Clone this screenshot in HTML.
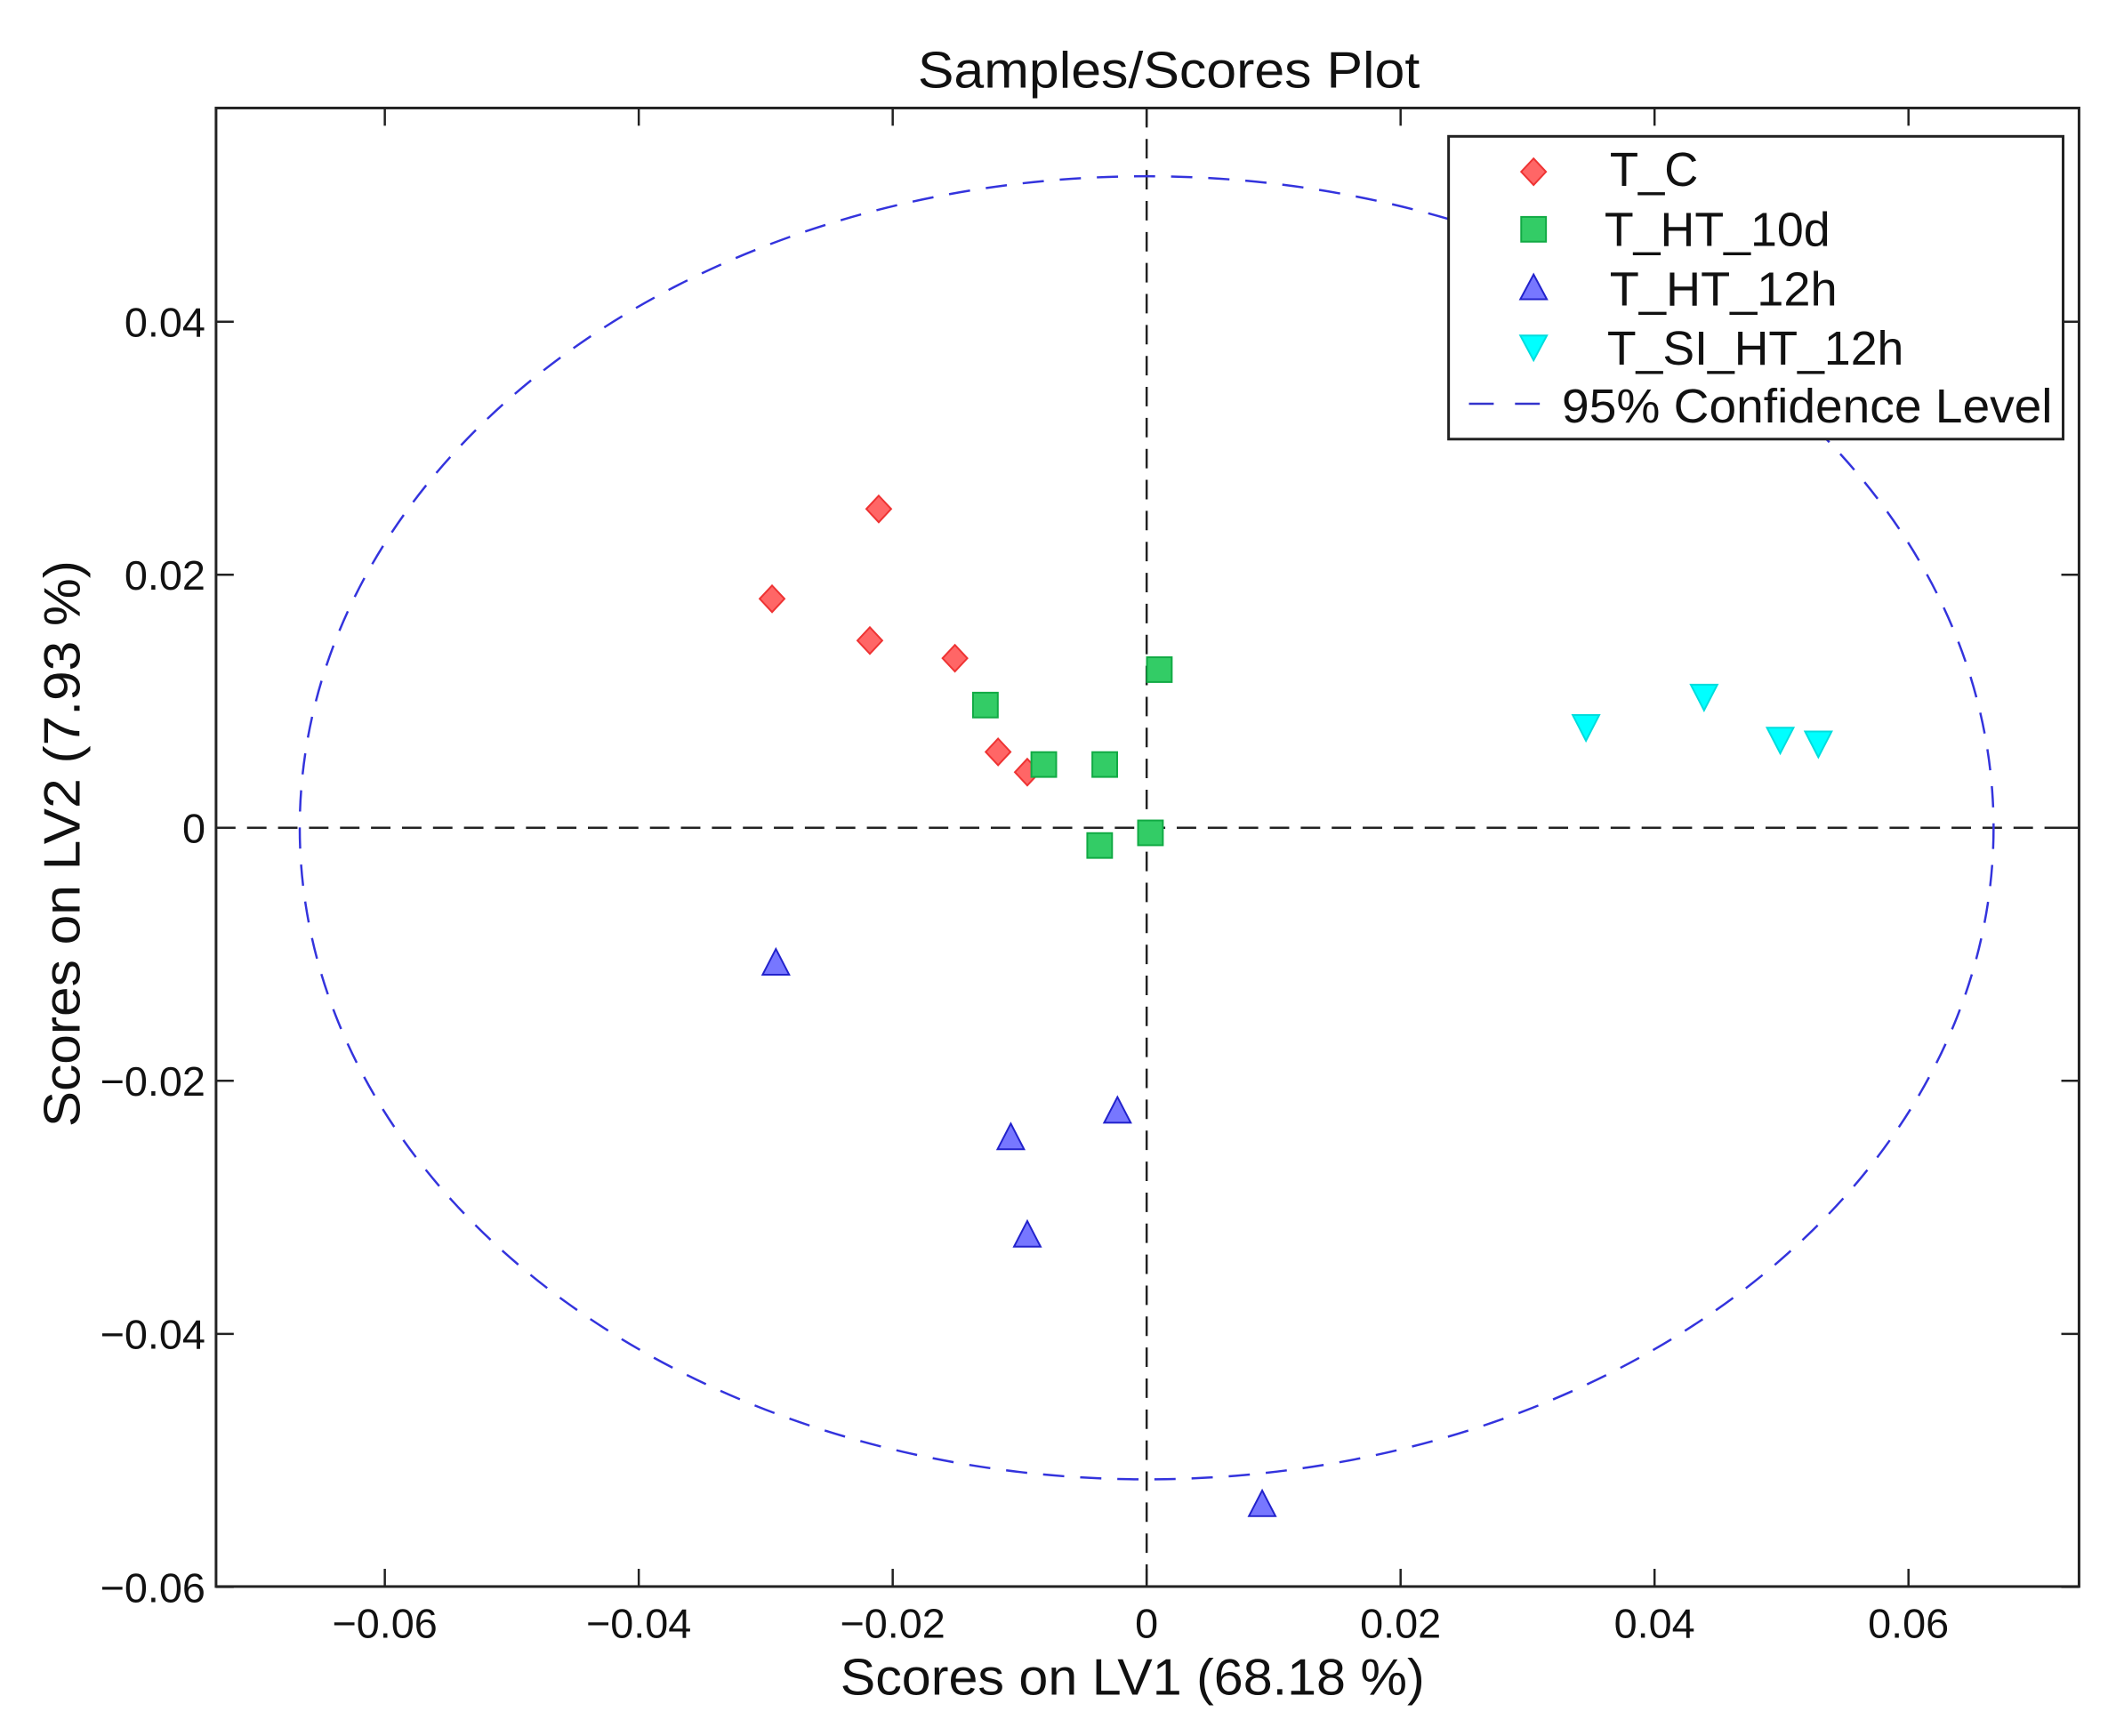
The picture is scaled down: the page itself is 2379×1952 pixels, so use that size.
<!DOCTYPE html>
<html><head><meta charset="utf-8"><style>
html,body{margin:0;padding:0;background:#fff}
svg{display:block}
text{font-family:"Liberation Sans",sans-serif;fill:#111}
</style></head><body>
<svg id="chart" width="2379" height="1952" viewBox="0 0 2379 1952" xmlns="http://www.w3.org/2000/svg">
<rect width="2379" height="1952" fill="#fff"/>
<g transform="scale(0.9955)">
<g id="grid"></g>
<g id="marks"></g>
<text x="1320" y="99" font-size="58" text-anchor="middle" textLength="567" lengthAdjust="spacingAndGlyphs">Samples/Scores Plot</text>
<text x="1279" y="1914" font-size="58" text-anchor="middle" textLength="660" lengthAdjust="spacingAndGlyphs">Scores on LV1 (68.18 %)</text>
<text x="0" y="0" font-size="58" text-anchor="middle" textLength="640" lengthAdjust="spacingAndGlyphs" transform="translate(90,953) rotate(-90)">Scores on LV2  (7.93 %)</text>
<g>
<rect x="1636" y="154" width="694" height="342" fill="#fff" stroke="#222" stroke-width="3"/>
<path d="M1732,179 L1746,194 L1732,209 L1718,194 Z" fill="#f66" stroke="#e33" stroke-width="2"/>
<text x="1818" y="210" font-size="54" textLength="100" lengthAdjust="spacingAndGlyphs">T_C</text>
<rect x="1718" y="245" width="28" height="28" fill="#3c6" stroke="#1a4" stroke-width="2"/>
<text x="1812" y="278" font-size="54" textLength="255" lengthAdjust="spacingAndGlyphs">T_HT_10d</text>
<path d="M1732,310 L1747,338 L1717,338 Z" fill="#77f" stroke="#22c" stroke-width="2"/>
<text x="1818" y="345" font-size="54" textLength="257" lengthAdjust="spacingAndGlyphs">T_HT_12h</text>
<path d="M1717,379 L1747,379 L1732,407 Z" fill="#0ff" stroke="#0dd" stroke-width="2"/>
<text x="1815" y="412" font-size="54" textLength="335" lengthAdjust="spacingAndGlyphs">T_SI_HT_12h</text>
<line x1="1659" y1="456" x2="1746" y2="456" stroke="#33c" stroke-width="2.5" stroke-dasharray="28,24"/>
<text x="1764" y="477" font-size="54" textLength="554" lengthAdjust="spacingAndGlyphs">95% Confidence Level</text>
</g>
</g>
</svg>
<script>
const xTicks = [-0.06, -0.04, -0.02, 0, 0.02, 0.04, 0.06];
const yTicks = [0.04, 0.02, 0, -0.02, -0.04, -0.06];
const tcX = [-0.0211, -0.0295, -0.0218, -0.0151, -0.0117, -0.0094];
const tcY = [0.0252, 0.0181, 0.0148, 0.0134, 0.0060, 0.0044];
const ht10dX = [0.0010, -0.0127, -0.0081, -0.0033, -0.0037, 0.0003];
const ht10dY = [0.0125, 0.0097, 0.0050, 0.0050, -0.0014, -0.0004];
const ht12hX = [-0.0292, -0.0107, -0.0023, -0.0094, 0.0091];
const ht12hY = [-0.0107, -0.0245, -0.0224, -0.0322, -0.0535];
const siX = [0.0346, 0.0439, 0.0499, 0.0529];
const siY = [0.0080, 0.0104, 0.0070, 0.0067];
const ellipseRx = [0.0667];
const ellipseRy = [0.0515];

const NS = 'http://www.w3.org/2000/svg';
const L = 244, R = 2348, T = 122, B = 1792;
const sx = v => 1295 + v * 14340;
const sy = v => 935 - v * 14290;
function mk(tag, attrs, parent) {
  const e = document.createElementNS(NS, tag);
  for (const k in attrs) e.setAttribute(k, attrs[k]);
  parent.appendChild(e);
  return e;
}
const grid = document.getElementById('grid');
const marks = document.getElementById('marks');

let zl = mk('line', {x1: sx(0), y1: T, x2: sx(0), y2: B, stroke: '#222', 'stroke-width': 2.5, 'stroke-dasharray': '22,13'}, grid);


zl = mk('line', {x1: L, y1: sy(0), x2: R, y2: sy(0), stroke: '#222', 'stroke-width': 2.5, 'stroke-dasharray': '22,13'}, grid);



const el = mk('ellipse', {cx: sx(0), cy: sy(0), rx: ellipseRx[0] * 14340, ry: ellipseRy[0] * 14290, fill: 'none', stroke: '#3333dd', 'stroke-width': 2.5, 'stroke-dasharray': '24,18'}, grid);



const fr = mk('rect', {x: L, y: T, width: R - L, height: B - T, fill: 'none', stroke: '#222', 'stroke-width': 3}, grid);



xTicks.forEach(v => {
  const x = sx(v);
  mk('line', {x1: x, y1: B, x2: x, y2: B - 20, stroke: '#222', 'stroke-width': 2.5}, grid);
  mk('line', {x1: x, y1: T, x2: x, y2: T + 20, stroke: '#222', 'stroke-width': 2.5}, grid);
  const t = mk('text', {x: x, y: 1850, 'font-size': 47, 'text-anchor': 'middle'}, grid);
  t.textContent = v === 0 ? '0' : (v < 0 ? '\u2212' : '') + Math.abs(v).toFixed(2);
  
  
});
yTicks.forEach(v => {
  const y = sy(v);
  mk('line', {x1: L, y1: y, x2: L + 20, y2: y, stroke: '#222', 'stroke-width': 2.5}, grid);
  mk('line', {x1: R, y1: y, x2: R - 20, y2: y, stroke: '#222', 'stroke-width': 2.5}, grid);
  const t = mk('text', {x: 232, y: y + 17, 'font-size': 47, 'text-anchor': 'end'}, grid);
  t.textContent = v === 0 ? '0' : (v < 0 ? '\u2212' : '') + Math.abs(v).toFixed(2);
  
  
});

tcX.forEach((v, i) => {
  const x = sx(v), y = sy(tcY[i]);
  const p = mk('path', {d: `M${x},${y-15} L${x+14},${y} L${x},${y+15} L${x-14},${y} Z`, fill: '#f66', stroke: '#e33', 'stroke-width': 2}, marks);
  
  
});
ht10dX.forEach((v, i) => {
  const x = sx(v), y = sy(ht10dY[i]);
  const p = mk('rect', {x: x - 14, y: y - 14, width: 28, height: 28, fill: '#3c6', stroke: '#1a4', 'stroke-width': 2}, marks);
  
  
});
ht12hX.forEach((v, i) => {
  const x = sx(v), y = sy(ht12hY[i]);
  const p = mk('path', {d: `M${x},${y-16} L${x+15},${y+13} L${x-15},${y+13} Z`, fill: '#77f', stroke: '#22c', 'stroke-width': 2}, marks);
  
  
});
siX.forEach((v, i) => {
  const x = sx(v), y = sy(siY[i]);
  const p = mk('path', {d: `M${x-15},${y-13} L${x+15},${y-13} L${x},${y+16} Z`, fill: '#0ff', stroke: '#0dd', 'stroke-width': 2}, marks);
  
  
});
</script>
</body></html>
